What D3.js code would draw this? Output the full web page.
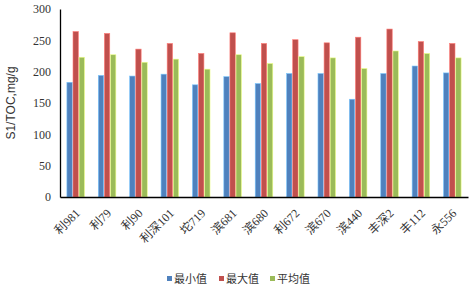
<!DOCTYPE html>
<meta charset="utf-8">
<title>S1/TOC</title>
<script src="https://d3js.org/d3.v7.min.js"></script>
<style>
  body { margin: 0; background: #fff; }
  text { fill: #333; }
</style>
<div id="my_dataviz"></div>
<script>
// data
var wells = ["利981", "利79", "利90", "利深101", "坨719", "滨681", "滨680", "利672", "滨670", "滨440", "丰深2", "丰112", "永556"];
var minVals = [183, 194, 193, 196, 179, 192, 181, 197, 197, 156, 197, 209, 198];
var maxVals = [264, 261, 236, 245, 229, 262, 245, 251, 246, 255, 268, 248, 245];
var avgVals = [223, 227, 215, 220, 204, 227, 213, 224, 222, 205, 233, 229, 222];
var seriesNames = ["最小值", "最大值", "平均值"];
var yTicks = [0, 50, 100, 150, 200, 250, 300];

var colors = ["#4F81BD", "#C0504D", "#9BBB59"];
var series = [minVals, maxVals, avgVals];

var margin = {top: 9, right: 8, bottom: 90, left: 60},
  width = 476 - margin.left - margin.right,
  height = 287 - margin.top - margin.bottom;

var svg = d3.select("#my_dataviz")
  .append("svg")
    .attr("width", 476)
    .attr("height", 287)
  .append("g")
    .attr("transform", "translate(" + margin.left + "," + margin.top + ")");

var x = d3.scaleBand()
  .domain(wells)
  .range([0, width]);

var xSub = d3.scaleBand()
  .domain(d3.range(series.length))
  .range([x.bandwidth() * 0.22, x.bandwidth() * 0.78])
  .paddingInner(0.12);

var y = d3.scaleLinear()
  .domain([0, 300])
  .range([height, 0]);

// bars
series.forEach(function(vals, s) {
  svg.append("g")
    .selectAll("rect")
    .data(vals)
    .enter().append("rect")
      .attr("x", function(d, i) { return x(wells[i]) + xSub(s); })
      .attr("y", function(d) { return y(d); })
      .attr("width", xSub.bandwidth())
      .attr("height", function(d) { return height - y(d); })
      .style("fill", colors[s])
      .style("stroke", d3.color(colors[s]).brighter(1.2))
      .style("stroke-width", 0.6);
});

// y axis
var yAxis = svg.append("g")
  .call(d3.axisLeft(y).tickValues(yTicks).tickSize(0).tickPadding(9));
yAxis.select(".domain").attr("stroke", "#000").attr("stroke-width", 1.3);
yAxis.selectAll("text")
  .style("font-family", "Liberation Serif, serif")
  .style("font-size", "12px")
  .style("fill", "#333");

// x axis
var xAxis = svg.append("g")
  .attr("transform", "translate(0," + height + ")")
  .call(d3.axisBottom(x).tickSize(0).tickSizeOuter(0).tickFormat(""));
xAxis.select(".domain").attr("stroke", "#000").attr("stroke-width", 1.3);

svg.append("g")
  .selectAll("text")
  .data(wells)
  .enter().append("text")
    .attr("transform", function(d) {
      return "translate(" + (x(d) + x.bandwidth() / 2 + 2) + "," + (height + 14) + ") rotate(-45)";
    })
    .attr("text-anchor", "end")
    .attr("dy", "0.35em")
    .style("font-family", "Liberation Serif, 'Noto Sans CJK SC', serif")
    .style("font-size", "12px")
    .text(function(d) { return d; });

// y title
svg.append("text")
  .attr("transform", "translate(" + (-45) + "," + (height / 2) + ") rotate(-90)")
  .attr("text-anchor", "middle")
  .style("font-family", "'Liberation Sans', Arial, sans-serif")
  .style("font-size", "12px")
  .text("S1/TOC,mg/g");

// legend
var legend = svg.append("g")
  .attr("transform", "translate(" + (167 - margin.left) + "," + (279 - margin.top) + ")");
var legendX = [0, 52, 103];
seriesNames.forEach(function(n, i) {
  var g = legend.append("g").attr("transform", "translate(" + legendX[i] + ",0)");
  g.append("rect")
    .attr("x", 0).attr("y", -3)
    .attr("width", 5).attr("height", 5)
    .style("fill", colors[i]);
  g.append("text")
    .attr("x", 7)
    .attr("dy", "0.35em")
    .style("font-family", "'Noto Sans CJK SC', sans-serif")
    .style("font-size", "11px")
    .text(n);
});
</script>
